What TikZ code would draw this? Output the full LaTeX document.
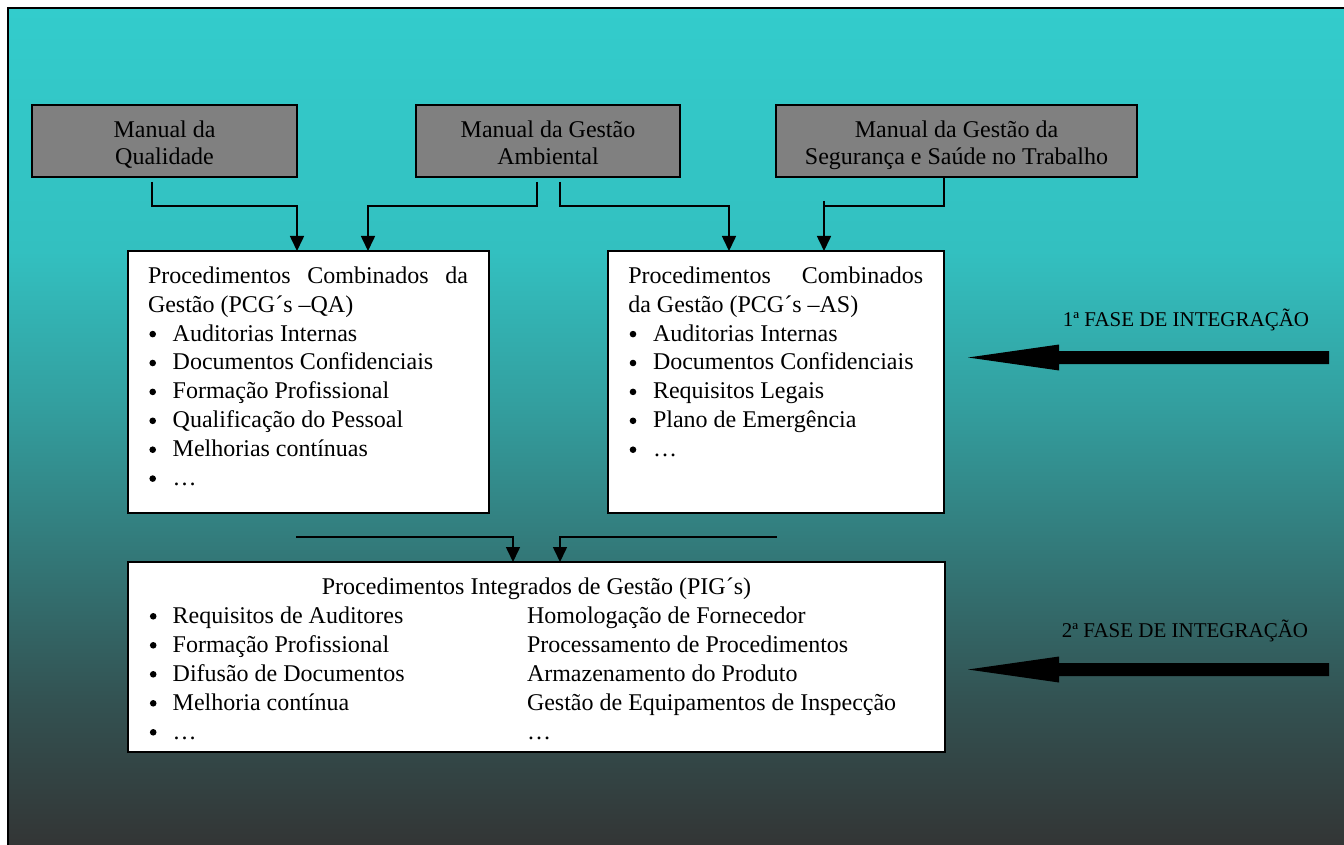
\documentclass[tikz,border=0pt]{standalone}
\usepackage{fontspec}
\setmainfont{Liberation Serif}
\usetikzlibrary{arrows.meta,calc}

% background fade, top to bottom
\definecolor{bgtop}{RGB}{51,204,204}
\definecolor{bga}{RGB}{51,192,192}
\definecolor{bgb}{RGB}{51,160,160}
\definecolor{bgc}{RGB}{51,124,124}
\definecolor{bgd}{RGB}{51,82,82}
\definecolor{bgbot}{RGB}{51,52,52}
\definecolor{manualgray}{RGB}{128,128,128}
\pgfdeclareverticalshading{bgfade}{100bp}{%
  color(0bp)=(bgbot); color(25bp)=(bgbot); color(33.96bp)=(bgd);
  color(43.45bp)=(bgc); color(51.75bp)=(bgb); color(60.6bp)=(bga);
  color(75bp)=(bgtop); color(100bp)=(bgtop)}

\newcommand\boxfont{\fontsize{24}{29}\selectfont}
\newcommand\phasefont{\fontsize{21}{25}\selectfont}
% two centred lines, baseline of the node = baseline of the first line
\newcommand\twoline[2]{\vtop{\baselineskip=27pt\halign{\hfil##\hfil\cr#1\cr#2\cr}}}
% indent of a bulleted line (the bullet itself is drawn as a dot)
\newcommand\bul{\hbox to 24.7pt{\hfil}}

\tikzset{
  graybox/.style={draw=black, line width=1.5pt, fill=manualgray, inner sep=0pt, outer sep=0pt},
  whitebox/.style={draw=black, line width=2pt, fill=white, inner sep=0pt, outer sep=0pt},
  txt/.style={inner sep=0pt, outer sep=0pt, font=\boxfont, anchor=base},
  phasetxt/.style={inner sep=0pt, outer sep=0pt, font=\phasefont, anchor=base},
  wire/.style={draw=black, line width=1.6pt},
  conn/.style={wire, -{Triangle[width=14pt,length=15pt]}},
  dot/.style={fill=black},
  phasearrow/.pic={\fill[black] (0,0) -- (91,-13) -- (91,-6.5) -- (361,-6.5)
      -- (361,6.5) -- (91,6.5) -- (91,13) -- cycle;}
}

\begin{document}
\begin{tikzpicture}[x=1pt,y=-1pt]
\useasboundingbox (0,0) rectangle (1344,845);
\fill[white] (0,0) rectangle (1344,845);
% framed, faded background
\shade[shading=bgfade, draw=black, line width=2pt] (8,8) rectangle (1352,851);

% manuals
\node[graybox, minimum width=265pt, minimum height=72pt] (Q) at (164.5,141) {};
\node[graybox, minimum width=264pt, minimum height=72pt] (G) at (548,141) {};
\node[graybox, minimum width=361pt, minimum height=72pt] (S) at (956.5,141) {};
\node[txt] (Qt) at (164.5,138) {\twoline{Manual da}{Qualidade}};
\node[txt] (Gt) at (548,138) {\twoline{Manual da Gestão}{Ambiental}};
\node[txt] (St) at (956.5,138) {\twoline{Manual da Gestão da}{Segurança e Saúde no Trabalho}};

% combined procedures
\node[whitebox, minimum width=361pt, minimum height=262pt] (A) at (308.5,382) {};
\node[whitebox, minimum width=336pt, minimum height=262pt] (B) at (776,382) {};
\node[txt, anchor=base west] (At) at (148,283.3) {\vtop{\baselineskip=28.9pt
  \hbox to 320pt{Procedimentos\hfil Combinados\hfil da}
  \hbox{Gestão (PCG´s –QA)}
  \hbox{\bul Auditorias Internas}
  \hbox{\bul Documentos Confidenciais}
  \hbox{\bul Formação Profissional}
  \hbox{\bul Qualificação do Pessoal}
  \hbox{\bul Melhorias contínuas}
  \hbox{\bul …}}};
\node[txt, anchor=base west] (Bt) at (628.3,283.3) {\vtop{\baselineskip=28.9pt
  \hbox to 295pt{Procedimentos\hfil Combinados}
  \hbox{da Gestão (PCG´s –AS)}
  \hbox{\bul Auditorias Internas}
  \hbox{\bul Documentos Confidenciais}
  \hbox{\bul Requisitos Legais}
  \hbox{\bul Plano de Emergência}
  \hbox{\bul …}}};
\foreach \k in {2,...,7} \fill[dot] (152.7,283.3+\k*28.9-7) circle[radius=3.3pt];
\foreach \k in {2,...,6} \fill[dot] (633,283.3+\k*28.9-7) circle[radius=3.3pt];

% integrated procedures
\node[whitebox, minimum width=817pt, minimum height=190pt] (P) at (536.5,657) {};
\node[txt, anchor=base west] (Pt) at (148,594.3) {\vtop{\baselineskip=29pt
  \hbox to 777pt{\hfil Procedimentos Integrados de Gestão (PIG´s)\hfil}
  \hbox{\hbox to 379pt{\bul Requisitos de Auditores\hfil}Homologação de Fornecedor}
  \hbox{\hbox to 379pt{\bul Formação Profissional\hfil}Processamento de Procedimentos}
  \hbox{\hbox to 379pt{\bul Difusão de Documentos\hfil}Armazenamento do Produto}
  \hbox{\hbox to 379pt{\bul Melhoria contínua\hfil}Gestão de Equipamentos de Inspecção}
  \hbox{\hbox to 379pt{\bul …\hfil}…}}};
\foreach \k in {1,...,5} \fill[dot] (153.2,594.3+\k*29-7) circle[radius=3.3pt];

% manuals to combined procedures
\draw[conn] ($(Q.south west)+(120,5)$) |- ($(A.north west)+(169,-45)$) -- ($(A.north west)+(169,0)$);
\draw[conn] ($(G.south west)+(121,5)$) |- ($(A.north west)+(240,-45)$) -- ($(A.north west)+(240,0)$);
\draw[conn] ($(G.south west)+(144,5)$) |- ($(B.north west)+(121,-45)$) -- ($(B.north west)+(121,0)$);
\draw[wire] ($(S.south west)+(168,1)$) |- ($(B.north west)+(216,-45)$);
\draw[conn] ($(B.north west)+(216,-50)$) -- ($(B.north west)+(216,0)$);

% combined to integrated procedures
\draw[conn] ($(A.south west)+(168,24)$) -| ($(P.north west)+(385,0)$);
\draw[conn] ($(B.south west)+(169,24)$) -| ($(P.north west)+(432,0)$);

% integration phases
\node[phasetxt] (F1) at (1186,326.7) {1ª FASE DE INTEGRAÇÃO};
\node[phasetxt] (F2) at (1185,637) {2ª FASE DE INTEGRAÇÃO};
\pic at (968,357.5) {phasearrow};
\pic at (968,669.5) {phasearrow};
\end{tikzpicture}
\end{document}
